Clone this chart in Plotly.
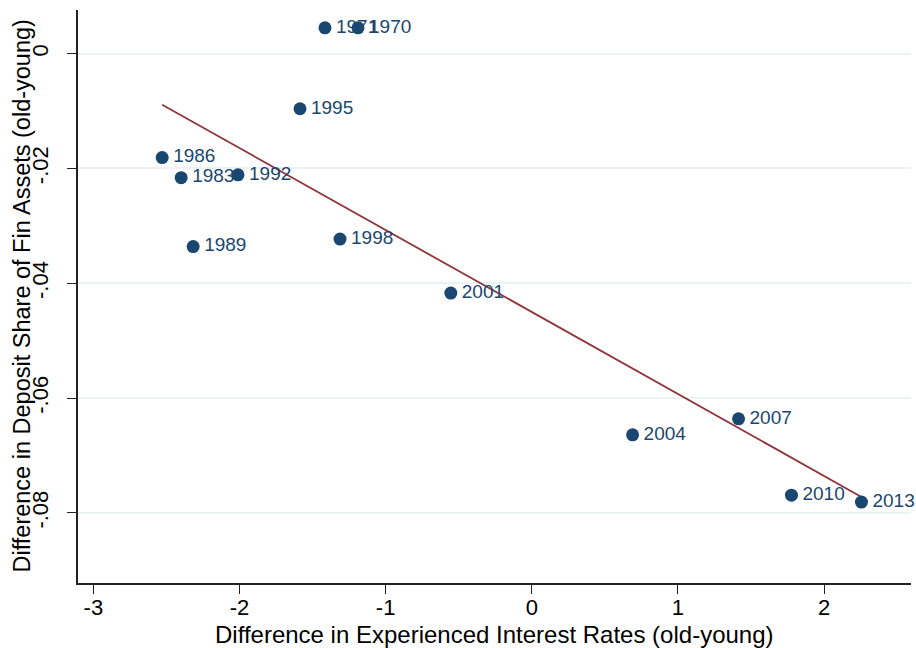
import numpy as np
import plotly.graph_objects as go

years = ["1971", "1970", "1995", "1986", "1983", "1992", "1989", "1998",
         "2001", "2004", "2007", "2010", "2013"]
x_rate = [-1.415, -1.189, -1.586, -2.529, -2.399, -2.010, -2.317, -1.312,
          -0.554, 0.690, 1.415, 1.777, 2.256]
y_share = [0.0045, 0.0045, -0.0096, -0.0181, -0.0216, -0.0211, -0.0336, -0.0323,
           -0.0417, -0.0664, -0.0636, -0.0769, -0.0781]

x_ticks = [-3, -2, -1, 0, 1, 2]
x_tick_text = ["-3", "-2", "-1", "0", "1", "2"]
y_ticks = [0, -0.02, -0.04, -0.06, -0.08]
y_tick_text = ["0", "-.02", "-.04", "-.06", "-.08"]

x_title = "Difference in Experienced Interest Rates (old-young)"
y_title = "Difference in Deposit Share of Fin Assets (old-young)"

navy = "#1a476f"
maroon = "#90353b"
FONT = "Liberation Sans, Arial, sans-serif"

slope, intercept = np.polyfit(x_rate, y_share, 1)
fx = np.array([min(x_rate), max(x_rate)])
fy = intercept + slope * fx

fig = go.Figure()
fig.add_trace(go.Scatter(
    x=fx, y=fy, mode="lines", line=dict(color=maroon, width=1.8),
    showlegend=False,
))
# labels first (with invisible markers for spacing), visible markers on top
fig.add_trace(go.Scatter(
    x=x_rate, y=y_share, mode="markers+text", text=years,
    textposition="middle right",
    textfont=dict(family=FONT, size=19, color=navy),
    marker=dict(color="rgba(0,0,0,0)", size=16, line=dict(width=0)),
    showlegend=False, cliponaxis=False, hoverinfo="skip",
))
fig.add_trace(go.Scatter(
    x=x_rate, y=y_share, mode="markers",
    marker=dict(color=navy, size=13, line=dict(width=0)),
    showlegend=False, cliponaxis=False,
))

fig.update_layout(
    width=916, height=648,
    margin=dict(l=78, r=5, t=10, b=65, autoexpand=False),
    paper_bgcolor="white", plot_bgcolor="white",
    font=dict(family=FONT, size=22, color="black"),
    xaxis=dict(
        range=[-3.105, 2.595], tickvals=x_ticks, ticktext=x_tick_text,
        ticks="outside", ticklen=9, tickwidth=1.3, tickcolor="#222",
        showgrid=False, zeroline=False, automargin=False,
        showline=True, linecolor="#222", linewidth=1.5,
        tickfont=dict(family=FONT, size=22), ticklabelstandoff=-5,
    ),
    yaxis=dict(
        range=[-0.0922, 0.0076], tickvals=y_ticks, ticktext=y_tick_text,
        tickangle=-90, ticks="outside", ticklen=9, tickwidth=1.3, tickcolor="#222",
        showgrid=True, gridcolor="#eaf2f3", gridwidth=1.5, zeroline=False,
        automargin=False,
        showline=True, linecolor="#222", linewidth=1.5,
        tickfont=dict(family=FONT, size=22), ticklabelstandoff=10,
    ),
    annotations=[
        dict(text=x_title, xref="paper", yref="paper", x=0.5, y=0,
             xanchor="center", yanchor="middle", yshift=-51, showarrow=False,
             font=dict(family=FONT, size=24, color="black")),
        dict(text=y_title, xref="paper", yref="paper", x=0, y=0.5,
             xanchor="center", yanchor="middle", xshift=-57, textangle=-90,
             showarrow=False, font=dict(family=FONT, size=23.5, color="black")),
    ],
)

fig.write_html("out.html", config={"displayModeBar": False},
               post_script="document.body.style.margin='0';")
